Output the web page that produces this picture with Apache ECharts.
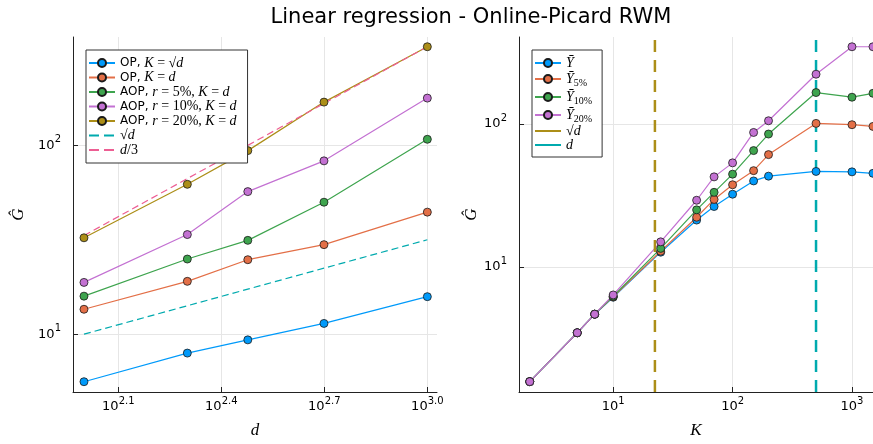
<!DOCTYPE html>
<html><head><meta charset="utf-8">
<script src="https://cdn.jsdelivr.net/npm/echarts@6/dist/echarts.min.js"></script>
<style>html,body{margin:0;padding:0;background:#fff}#c{width:873px;height:444px}</style>
</head><body><div id="c"></div>
<script>
// ---- data (left panel) ----
const dValues = [100, 200, 300, 500, 1000];
const opSqrt = [5.60, 7.94, 9.33, 11.4, 15.8];
const opLin = [13.55, 19.05, 24.8, 29.8, 44.3];
const aop5 = [15.9, 25.0, 31.4, 50.0, 107.7];
const aop10 = [18.8, 33.7, 56.9, 82.8, 178];
const aop20 = [32.4, 62.2, 93.8, 169.5, 333];
const sqrtD = [10, 14.14, 17.32, 22.36, 31.62];
const dOver3 = [33.3, 66.7, 100, 166.7, 333.3];
const leftXTicks = [125.89, 251.19, 501.19, 1000];
const leftYTicks = [10, 100];
// ---- data (right panel) ----
const kValues = [2, 5, 7, 10, 25, 50, 70, 100, 150, 200, 500, 1000, 1500];
const yBar = [1.58, 3.47, 4.68, 6.15, 12.7, 21.3, 26.5, 32.3, 40.0, 43.2, 46.6, 46.3, 45.2];
const yBar5 = [1.58, 3.47, 4.68, 6.2, 12.9, 22.3, 29.7, 37.6, 47.2, 61.1, 101, 98.9, 96.2];
const yBar10 = [1.58, 3.47, 4.68, 6.25, 13.5, 25.1, 33.3, 44.6, 65.2, 85.1, 166, 154, 164];
const yBar20 = [1.58, 3.47, 4.68, 6.38, 15.0, 29.3, 42.7, 53.5, 87.3, 105.4, 223, 347, 347];
const vLineSqrtD = 22.36;
const vLineD = 500;
const rightXTicks = [10, 100, 1000];
const rightYTicks = [10, 100];

// axis extents
const leftX = [92.9, 1067], leftY = [4.94, 375];
const rightX = [1.626, 1500], rightY = [1.337, 406];

const C = {blue:'#009AFA', orange:'#E36F47', green:'#3EA44E', purple:'#C371D2', olive:'#AC8E18', cyan:'#00AAAE', pink:'#ED5E93'};

const supRich = {
  b: {fontSize: 13, fontFamily: 'DejaVu Sans', color: '#000'},
  s: {fontSize: 10, fontFamily: 'DejaVu Sans', color: '#000', padding: [0, 0, 12, 0]}
};
function fmtDec(v){ return '{b|10}{s|' + Math.log10(v).toFixed(1) + '}'; }
function fmtInt(v){ return '{b|10}{s|' + Math.round(Math.log10(v)) + '}'; }

function axisBase(){
  return {
    type: 'log', logBase: 10,
    axisLine: {show: true, onZero: false, lineStyle: {color: '#222', width: 1}},
    axisTick: {show: true, inside: true, length: 5, lineStyle: {color: '#222'}},
    splitLine: {show: true, lineStyle: {color: '#e6e6e6', width: 1}},
    minorTick: {show: false}, minorSplitLine: {show: false},
    nameTextStyle: {fontFamily: 'Liberation Serif', fontStyle: 'italic', fontSize: 17, color: '#000'}
  };
}
function xAx(grid, ext, ticks, fmt, name, gap){
  const a = axisBase();
  Object.assign(a, {gridIndex: grid, min: ext[0], max: ext[1], name: name, nameLocation: 'middle', nameGap: gap});
  a.axisTick.customValues = ticks;
  a.axisLabel = {customValues: ticks, formatter: fmt, rich: supRich, margin: 4, color: '#000'};
  return a;
}
function yAx(grid, ext, ticks, fmt, name, gap){
  const a = axisBase();
  Object.assign(a, {gridIndex: grid, min: ext[0], max: ext[1], name: name, nameLocation: 'middle', nameGap: gap, nameRotate: 90});
  a.axisTick.customValues = ticks;
  a.axisLabel = {customValues: ticks, formatter: fmt, rich: supRich, margin: 12, color: '#000'};
  return a;
}

function pts(xs, ys){ return xs.map((x, i) => [x, ys[i]]); }
function mkSeries(name, xi, xs, ys, color){
  return {
    name: name, type: 'line', xAxisIndex: xi, yAxisIndex: xi,
    data: pts(xs, ys), symbol: 'circle', symbolSize: 8, showSymbol: true,
    lineStyle: {color: color, width: 1.2},
    itemStyle: {color: color, borderColor: '#1a1a1a', borderWidth: 0.8},
    emphasis: {disabled: true}, animation: false
  };
}
function mkDash(name, xi, data, color, width, dash){
  return {
    name: name, type: 'line', xAxisIndex: xi, yAxisIndex: xi,
    data: data, symbol: 'none', showSymbol: false,
    lineStyle: {color: color, width: width, type: dash},
    itemStyle: {color: 'rgba(0,0,0,0)', borderWidth: 0},
    emphasis: {disabled: true}, animation: false
  };
}

const names = {
  a: 'OP, K = √d', b: 'OP, K = d', c: 'AOP, r = 5%, K = d', d: 'AOP, r = 10%, K = d',
  e: 'AOP, r = 20%, K = d', f: '√d (left)', g: 'd/3',
  h: 'Ȳ', i: 'Ȳ 5%', j: 'Ȳ 10%', k: 'Ȳ 20%', l: '√d (right)', m: 'd (right)'
};
const legendText = {};
legendText[names.a] = '{s|OP, }{m|K}{n| = √}{m|d}';
legendText[names.b] = '{s|OP, }{m|K}{n| = }{m|d}';
legendText[names.c] = '{s|AOP, }{m|r}{n| = 5%, }{m|K}{n| = }{m|d}';
legendText[names.d] = '{s|AOP, }{m|r}{n| = 10%, }{m|K}{n| = }{m|d}';
legendText[names.e] = '{s|AOP, }{m|r}{n| = 20%, }{m|K}{n| = }{m|d}';
legendText[names.f] = '{n|√}{m|d}';
legendText[names.g] = '{m|d}{n|/3}';
legendText[names.h] = '{m|Ȳ}';
legendText[names.i] = '{m|Ȳ}{sub|5%}';
legendText[names.j] = '{m|Ȳ}{sub|10%}';
legendText[names.k] = '{m|Ȳ}{sub|20%}';
legendText[names.l] = '{n|√}{m|d}';
legendText[names.m] = '{m|d}';

const legRich = {
  s: {fontFamily: 'DejaVu Sans', fontSize: 12, lineHeight: 12, color: '#000'},
  m: {fontFamily: 'Liberation Serif', fontStyle: 'italic', fontSize: 14, lineHeight: 12, color: '#000'},
  n: {fontFamily: 'Liberation Serif', fontSize: 14, lineHeight: 12, color: '#000'},
  sub: {fontFamily: 'Liberation Serif', fontSize: 10, lineHeight: 9, color: '#000', padding: [8, 0, 0, 0]}
};

const option = {
  backgroundColor: '#fff',
  animation: false,
  title: {text: 'Linear regression - Online-Picard RWM', left: 466, top: 2, textAlign: 'center',
    textStyle: {fontFamily: 'DejaVu Sans', fontSize: 21, fontWeight: 'normal', color: '#000'}},
  grid: [
    {left: 73, top: 37, width: 364, height: 356},
    {left: 519, top: 37, width: 354, height: 356}
  ],
  xAxis: [
    xAx(0, leftX, leftXTicks, fmtDec, 'd', 30),
    xAx(1, rightX, rightXTicks, fmtInt, 'K', 30)
  ],
  yAxis: [
    yAx(0, leftY, leftYTicks, fmtInt, 'Ĝ', 46),
    yAx(1, rightY, rightYTicks, fmtInt, 'Ĝ', 28)
  ],
  legend: [
    {
      data: [names.a, names.b, names.c, names.d, names.e,
        {name: names.f, lineStyle: {type: [10, 5]}}, {name: names.g, lineStyle: {type: [10, 5]}}],
      orient: 'vertical', left: 86, top: 50, itemWidth: 26, itemHeight: 10, itemGap: 0.5,
      padding: [6, 11, 6, 2], borderColor: '#333', borderWidth: 1, backgroundColor: '#fff',
      selectedMode: false, formatter: n => legendText[n],
      textStyle: {fontSize: 12, lineHeight: 12, color: '#000', rich: legRich}
    },
    {
      data: [names.h, names.i, names.j, names.k,
        {name: names.l, lineStyle: {type: 'solid'}}, {name: names.m, lineStyle: {type: 'solid'}}],
      orient: 'vertical', left: 532, top: 50, itemWidth: 26, itemHeight: 10, itemGap: 0,
      padding: [6, 10, 5, 2], borderColor: '#333', borderWidth: 1, backgroundColor: '#fff',
      selectedMode: false, formatter: n => legendText[n],
      textStyle: {fontSize: 12, lineHeight: 12, color: '#000', rich: legRich}
    }
  ],
  series: [
    mkSeries(names.a, 0, dValues, opSqrt, C.blue),
    mkSeries(names.b, 0, dValues, opLin, C.orange),
    mkSeries(names.c, 0, dValues, aop5, C.green),
    mkSeries(names.d, 0, dValues, aop10, C.purple),
    mkSeries(names.e, 0, dValues, aop20, C.olive),
    mkDash(names.f, 0, pts(dValues, sqrtD), C.cyan, 1.2, [7, 4]),
    mkDash(names.g, 0, pts(dValues, dOver3), C.pink, 1.2, [7, 4]),
    mkSeries(names.h, 1, kValues, yBar, C.blue),
    mkSeries(names.i, 1, kValues, yBar5, C.orange),
    mkSeries(names.j, 1, kValues, yBar10, C.green),
    mkSeries(names.k, 1, kValues, yBar20, C.purple),
    mkDash(names.l, 1, [[vLineSqrtD, rightY[0]], [vLineSqrtD, rightY[1]]], C.olive, 2.5, [12, 8]),
    mkDash(names.m, 1, [[vLineD, rightY[0]], [vLineD, rightY[1]]], C.cyan, 2.5, [12, 8])
  ]
};
const chart = echarts.init(document.getElementById('c'), null, {renderer: 'canvas'});
chart.setOption(option);
</script>
</body></html>
